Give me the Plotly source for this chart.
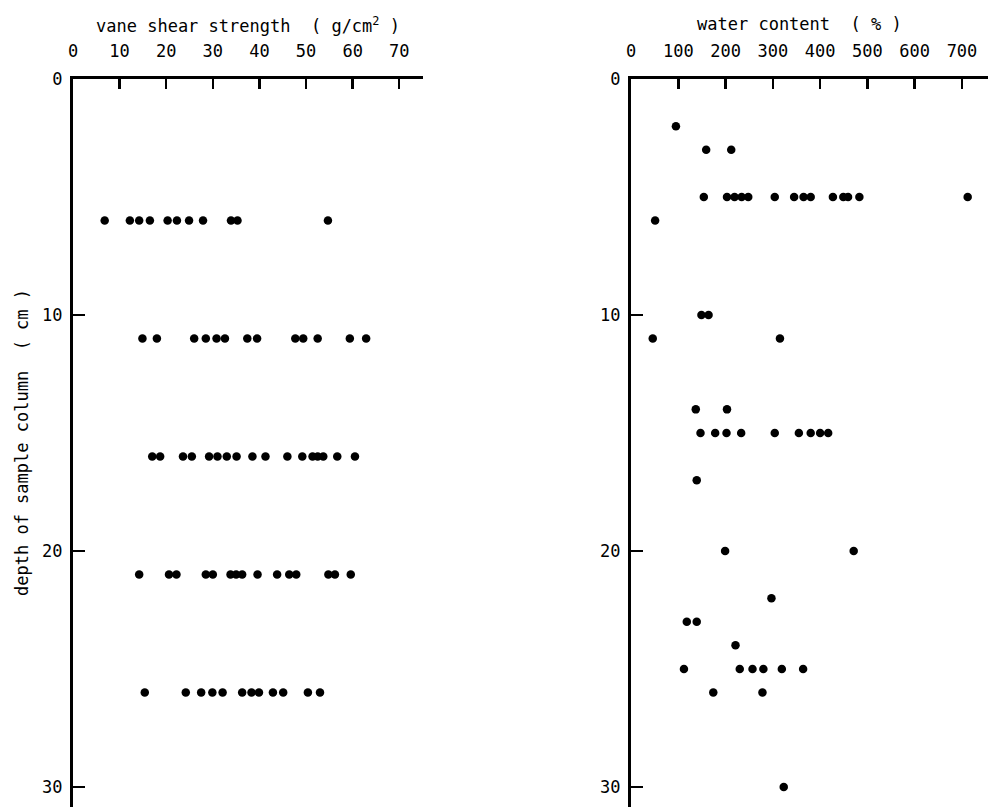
import plotly.graph_objects as go

# ---- data: vane shear strength (g/cm^2) by depth (cm) ----
vane_depths = [6, 11, 16, 21, 26]
vane_d6 = [6.8, 12.2, 14.2, 16.5, 20.3, 22.3, 24.9, 27.9, 33.9, 35.3, 54.7]
vane_d11 = [14.9, 18.0, 26.0, 28.5, 30.8, 32.6, 37.4, 39.5, 47.7, 49.4, 52.5, 59.4, 62.9]
vane_d16 = [17.0, 18.7, 23.6, 25.5, 29.2, 31.0, 33.0, 35.1, 38.5, 41.3, 46.0, 49.2, 51.4,
            52.5, 53.7, 56.7, 60.5]
vane_d21 = [14.2, 20.6, 22.2, 28.5, 30.0, 33.8, 35.0, 36.3, 39.6, 43.8, 46.4, 47.9, 54.8,
            56.2, 59.6]
vane_d26 = [15.4, 24.2, 27.5, 29.9, 32.1, 36.3, 38.3, 39.9, 42.9, 45.1, 50.4, 53.0]
vane_values = [vane_d6, vane_d11, vane_d16, vane_d21, vane_d26]

# ---- data: water content (%) by depth (cm) ----
wc_depths = [2, 3, 5, 6, 10, 11, 14, 15, 17, 20, 22, 23, 24, 25, 26, 30]
wc_values = [
    [95],
    [159, 212],
    [154, 203, 219, 234, 248, 304, 345, 365, 380, 427, 449, 459, 483, 712],
    [51],
    [149, 164],
    [46, 315],
    [137, 203],
    [147, 178, 202, 233, 304, 355, 380, 400, 417],
    [139],
    [199, 471],
    [297],
    [118, 139],
    [221],
    [112, 230, 257, 280, 319, 364],
    [174, 278],
    [323],
]

vane_ticks = [0, 10, 20, 30, 40, 50, 60, 70]
wc_ticks = [0, 100, 200, 300, 400, 500, 600, 700]
depth_ticks = [0, 10, 20, 30]

vx, vy = [], []
for d, vals in zip(vane_depths, vane_values):
    vx += vals
    vy += [d] * len(vals)
wx, wy = [], []
for d, vals in zip(wc_depths, wc_values):
    wx += vals
    wy += [d] * len(vals)

FONT = "DejaVu Sans Mono"
W, H = 988, 807
TOP = 79

fig = go.Figure()
marker = dict(color="black", size=8.5, line=dict(width=0))
fig.add_trace(go.Scatter(x=vx, y=vy, mode="markers", marker=marker,
                         xaxis="x", yaxis="y", showlegend=False, cliponaxis=False))
fig.add_trace(go.Scatter(x=wx, y=wy, mode="markers", marker=marker,
                         xaxis="x2", yaxis="y2", showlegend=False, cliponaxis=False))

common_x = dict(side="top", showgrid=False, zeroline=False, showline=True,
                linecolor="black", linewidth=3, ticks="inside", ticklen=10,
                tickwidth=2.5, tickcolor="black", ticklabelstandoff=12,
                tickfont=dict(family=FONT, size=17, color="black"),
                automargin=False, fixedrange=True)
common_y = dict(showgrid=False, zeroline=False, showline=True, linecolor="black",
                linewidth=3, ticks="inside", ticklen=12, tickwidth=2.5,
                tickcolor="black", tickvals=depth_ticks, range=[30.85, 0],
                ticklabelstandoff=4,
                tickfont=dict(family=FONT, size=17, color="black"),
                automargin=False, fixedrange=True, domain=[0, 1])

fig.update_layout(
    width=W, height=H,
    margin=dict(l=0, r=0, t=TOP, b=0),
    paper_bgcolor="white", plot_bgcolor="white",
    xaxis=dict(common_x, domain=[73 / W, 423 / W], range=[0, 75.1],
               tickvals=vane_ticks, anchor="y"),
    yaxis=dict(common_y, anchor="x"),
    xaxis2=dict(common_x, domain=[631 / W, 1.0], range=[0, 755],
                tickvals=wc_ticks, anchor="y2"),
    yaxis2=dict(common_y, anchor="x2"),
    annotations=[
        dict(text="vane shear strength  ( g/cm<sup>2</sup> )", x=248 / W, y=1,
             xref="paper", yref="paper", yshift=54, showarrow=False,
             xanchor="center", yanchor="middle",
             font=dict(family=FONT, size=17, color="black")),
        dict(text="water content  ( % )", x=799 / W, y=1,
             xref="paper", yref="paper", yshift=55, showarrow=False,
             xanchor="center", yanchor="middle",
             font=dict(family=FONT, size=17, color="black")),
        dict(text="depth of sample column  ( cm )", x=22 / W, y=0.5,
             xref="paper", yref="paper", showarrow=False, textangle=-90,
             xanchor="center", yanchor="middle",
             font=dict(family=FONT, size=17, color="black")),
    ],
)

fig.write_html(
    "out.html",
    config={"displayModeBar": False, "staticPlot": True},
    post_script="document.body.style.margin='0';document.body.style.overflow='hidden';",
)
